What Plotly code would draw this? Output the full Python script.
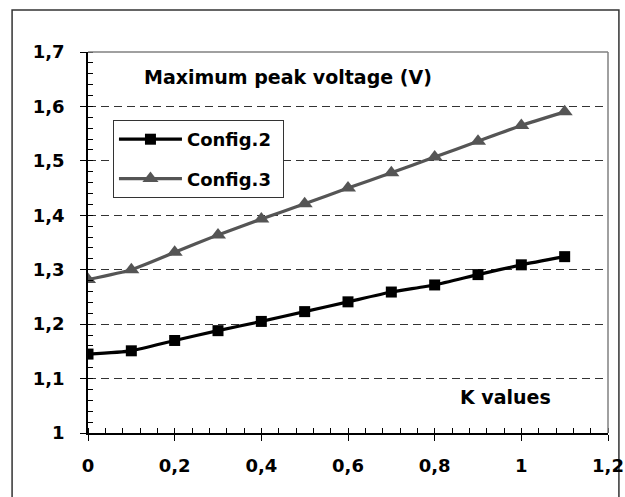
import plotly.graph_objects as go

k_values = [0, 0.1, 0.2, 0.3, 0.4, 0.5, 0.6, 0.7, 0.8, 0.9, 1.0, 1.1]
config2 = [1.145, 1.151, 1.170, 1.188, 1.205, 1.223, 1.241, 1.259, 1.272, 1.291, 1.309, 1.324]
config3 = [1.282, 1.300, 1.332, 1.364, 1.393, 1.421, 1.450, 1.478, 1.507, 1.536, 1.565, 1.590]

x_tickvals = [0, 0.2, 0.4, 0.6, 0.8, 1.0, 1.2]
x_ticktext = ["0", "0,2", "0,4", "0,6", "0,8", "1", "1,2"]
y_tickvals = [1.0, 1.1, 1.2, 1.3, 1.4, 1.5, 1.6, 1.7]
y_ticktext = ["1", "1,1", "1,2", "1,3", "1,4", "1,5", "1,6", "1,7"]

FONT = "DejaVu Sans"

fig = go.Figure()
fig.add_trace(go.Scatter(
    x=k_values, y=config2, name="Config.2\u00a0", mode="lines+markers",
    line=dict(color="#000000", width=3.2, shape="spline", smoothing=0.5),
    marker=dict(symbol="square", size=11, color="#000000"),
    legendgroup="a",
))
fig.add_trace(go.Scatter(
    x=k_values, y=config3, name="Config.3\u00a0", mode="lines+markers",
    line=dict(color="#555555", width=3.2, shape="spline", smoothing=0.5),
    marker=dict(symbol="triangle-up", size=14, color="#555555"),
    legendgroup="b",
))

axis_common = dict(
    showline=True, linecolor="#000000", linewidth=1.5,
    ticks="outside", ticklen=6, tickwidth=1.2, tickcolor="#000000",
    tickfont=dict(family=FONT, size=18, color="#000000", weight="bold"),
    zeroline=False,
)

fig.update_xaxes(
    range=[0, 1.2], tickvals=x_tickvals, ticktext=x_ticktext,
    showgrid=False, ticklabelstandoff=10,
    minor=dict(ticks="inside", dtick=0.04, tick0=0, ticklen=5, tickwidth=1, tickcolor="#000000", showgrid=False),
    **axis_common,
)
fig.update_yaxes(
    range=[1.0, 1.7], tickvals=y_tickvals, ticktext=y_ticktext,
    showgrid=True, gridcolor="#333333", gridwidth=1, griddash="8px,5px",
    ticklabelstandoff=12,
    minor=dict(ticks="inside", dtick=0.02, tick0=1.0, ticklen=5, tickwidth=1, tickcolor="#000000", showgrid=False),
    **axis_common,
)

shapes = [
    dict(type="line", xref="paper", yref="paper", x0=0, x1=1, y0=1, y1=1,
         line=dict(color="#808080", width=1.5)),
    dict(type="line", xref="paper", yref="paper", x0=1, x1=1, y0=0, y1=1,
         line=dict(color="#808080", width=1.5)),
    dict(type="rect", xref="paper", yref="paper", x0=-0.146, x1=1.021, y0=-0.3, y1=1.110,
         line=dict(color="#333333", width=1.5), fillcolor="rgba(0,0,0,0)", layer="below"),
]

annotations = [
    dict(text="Maximum peak voltage (V)", xref="paper", yref="paper", x=0.384, y=0.934,
         xanchor="center", yanchor="middle", showarrow=False,
         font=dict(family=FONT, size=19, color="#000000", weight="bold")),
    dict(text="K values", xref="paper", yref="paper", x=0.802, y=0.0945,
         xanchor="center", yanchor="middle", showarrow=False,
         font=dict(family=FONT, size=19, color="#000000", weight="bold")),
]

fig.update_layout(
    width=625, height=497,
    margin=dict(l=88, r=17, t=52, b=64, autoexpand=False),
    paper_bgcolor="white", plot_bgcolor="white",
    shapes=shapes, annotations=annotations,
    showlegend=True,
    legend=dict(
        x=0.048, y=0.8215, xanchor="left", yanchor="top",
        bordercolor="#333333", borderwidth=1, bgcolor="white",
        font=dict(family=FONT, size=18, color="#000000", weight="bold"),
        traceorder="grouped", tracegroupgap=13, itemwidth=63,
    ),
)

fig.write_html(
    "out.html",
    config={"displayModeBar": False},
    post_script="document.body.style.margin='0';document.body.style.overflow='hidden';",
)
